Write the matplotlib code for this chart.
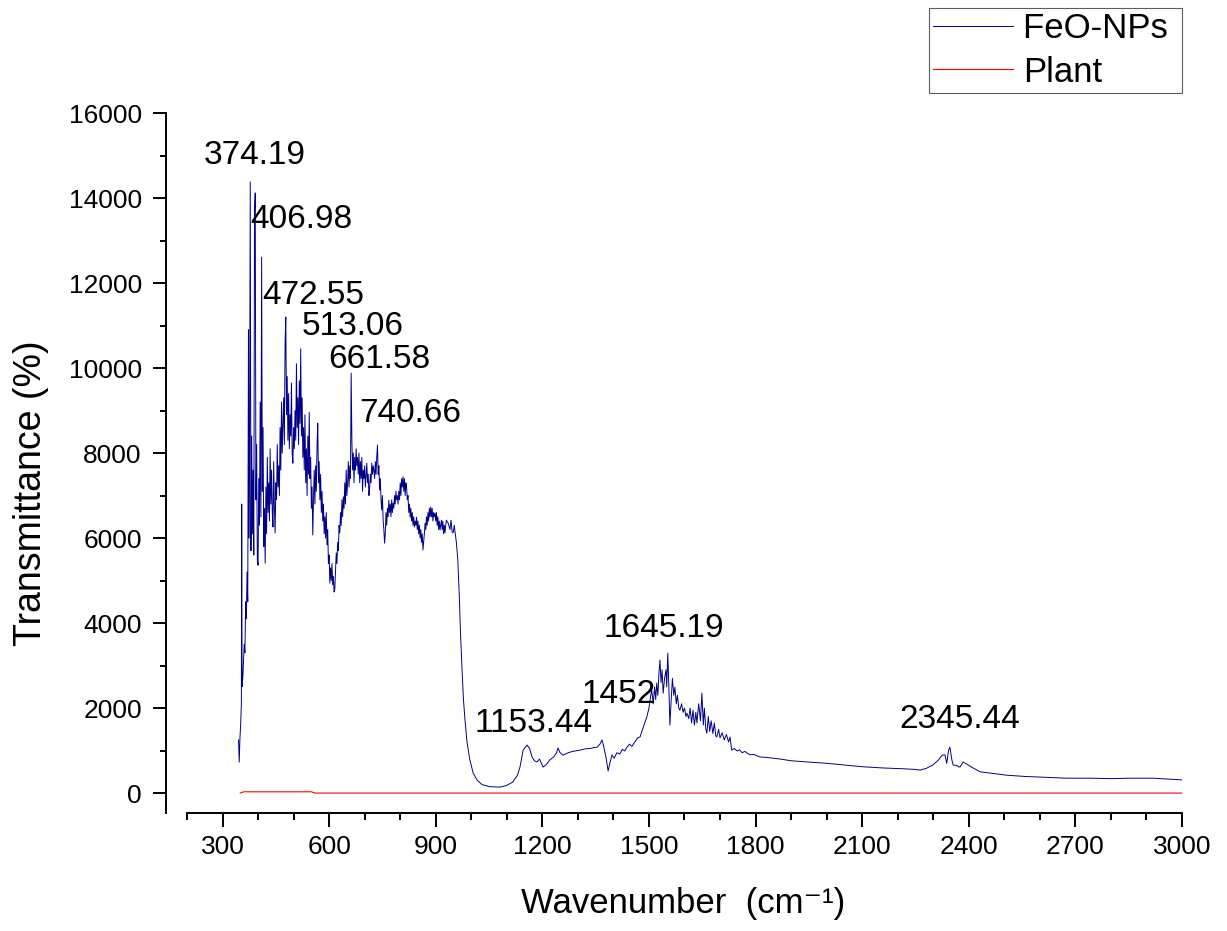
import matplotlib
matplotlib.use('Agg')
from matplotlib import pyplot as plt
from matplotlib.ticker import MultipleLocator

plt.rcParams['font.family'] = ['Liberation Sans', 'DejaVu Sans']

# FTIR spectrum of the iron oxide nanoparticles
feo_wn = [345, 347, 349, 351, 353, 354, 355, 357, 359, 361, 363, 365, 367, 369, 371, 373, 374, 376, 378,
          380, 382, 384, 386, 388, 390, 392, 394, 396, 398, 400, 402, 404, 406, 408, 410, 412, 414, 416,
          418, 420, 422, 424, 426, 428, 430, 432, 434, 436, 438, 440, 442, 444, 446, 448, 450, 452, 454,
          456, 458, 460, 462, 464, 466, 468, 470, 472, 474, 476, 478, 480, 482, 484, 486, 488, 490, 492,
          494, 496, 498, 500, 502, 504, 506, 508, 510, 512, 514, 516, 518, 520, 522, 524, 526, 528, 530,
          532, 534, 536, 538, 540, 542, 544, 546, 548, 550, 552, 554, 556, 558, 560, 562, 564, 566, 568,
          570, 572, 574, 576, 578, 580, 582, 584, 586, 588, 590, 592, 594, 596, 598, 600, 602, 604, 606,
          608, 610, 612, 614, 616, 618, 620, 622, 624, 626, 628, 630, 632, 634, 636, 638, 640, 642, 644,
          646, 648, 650, 652, 654, 656, 658, 660, 662, 664, 666, 668, 670, 672, 674, 676, 678, 680, 682,
          684, 686, 688, 690, 692, 694, 696, 698, 700, 702, 704, 706, 708, 710, 712, 714, 716, 718, 720,
          722, 724, 726, 728, 730, 732, 734, 736, 738, 740, 742, 744, 746, 748, 750, 752, 754, 756, 758,
          760, 762, 764, 766, 768, 770, 772, 774, 776, 778, 780, 782, 784, 786, 788, 790, 792, 794, 796,
          798, 800, 802, 804, 806, 808, 810, 812, 814, 816, 818, 820, 822, 824, 826, 828, 830, 832, 834,
          836, 838, 840, 842, 844, 846, 848, 850, 852, 854, 856, 858, 860, 862, 864, 866, 868, 870, 872,
          874, 876, 878, 880, 882, 884, 886, 888, 890, 892, 894, 896, 898, 900, 902, 904, 906, 908, 910,
          912, 914, 916, 918, 920, 922, 924, 926, 928, 930, 935, 940, 943, 946, 949, 952, 955, 958, 962,
          966, 970, 974, 978, 982, 988, 996, 1005, 1016, 1030, 1053, 1081, 1100, 1117, 1130, 1137, 1146,
          1157, 1164, 1171, 1178, 1185, 1192, 1202, 1212, 1221, 1232, 1240, 1244, 1250, 1258, 1270, 1285,
          1306, 1320, 1335, 1345, 1354, 1362, 1368, 1374, 1380, 1385, 1390, 1396, 1402, 1410, 1418, 1425,
          1432, 1438, 1445, 1452, 1460, 1468, 1475, 1480, 1486, 1494, 1500, 1505, 1508, 1512, 1516, 1519,
          1522, 1525, 1528, 1531, 1534, 1537, 1540, 1544, 1548, 1550, 1553, 1556, 1559, 1562, 1566, 1570,
          1573, 1577, 1580, 1584, 1587, 1592, 1596, 1600, 1604, 1607, 1612, 1616, 1620, 1624, 1628, 1632,
          1635, 1640, 1645, 1649, 1653, 1656, 1660, 1663, 1667, 1671, 1675, 1680, 1684, 1688, 1691, 1696,
          1700, 1706, 1712, 1718, 1724, 1728, 1733, 1740, 1748, 1755, 1762, 1770, 1776, 1785, 1795, 1812,
          1830, 1850, 1870, 1900, 1950, 2000, 2050, 2100, 2160, 2220, 2250, 2263, 2280, 2299, 2315, 2325,
          2333, 2338, 2343, 2347, 2352, 2356, 2365, 2375, 2384, 2395, 2410, 2432, 2460, 2507, 2560, 2620,
          2676, 2740, 2800, 2860, 2918, 2960, 3000]
feo_t = [1250, 730, 1300, 1600, 2100, 6800, 2500, 2700, 3100, 3500, 3300, 4500, 4100, 5200, 4500, 10900, 6000, 8000, 14380,
         5700, 8400, 6100, 7600, 5600, 13600, 14120, 6900, 8200, 5500, 5360, 7400, 6300, 9200, 6500, 12610, 7100, 8600, 5800,
         6700, 5410, 7200, 6100, 7900, 6600, 7300, 6400, 8100, 6800, 7600, 6600, 6260, 7800, 6700, 6120, 7300, 6900, 8200,
         7200, 7700, 7000, 8600, 7600, 9200, 8000, 8700, 9300, 8200, 10600, 11200, 8900, 9800, 8300, 9400, 8100, 8900, 8400,
         9650, 8000, 7760, 8600, 8100, 9000, 8300, 10100, 8600, 9300, 8200, 9700, 8700, 10450, 8400, 9300, 7900, 8600, 7600,
         8900, 7300, 8100, 7000, 8400, 7500, 8960, 7400, 7900, 6700, 7200, 6070, 6900, 7600, 6800, 7700, 7100, 8200, 8700,
         7300, 7800, 6900, 7500, 6600, 7100, 6400, 6800, 6100, 6500, 6000, 6600, 5840, 6200, 5400, 5600, 4940, 5300, 5000,
         5400, 4900, 5100, 4730, 4800, 5200, 5650, 5400, 5900, 5700, 6300, 6120, 6600, 6300, 6900, 6500, 6970, 6700, 7300,
         6800, 7600, 7000, 7290, 7800, 7200, 7700, 7400, 9880, 8300, 7600, 8000, 7300, 7900, 7600, 8100, 7700, 7900, 7500,
         8000, 7300, 7800, 7400, 7900, 7100, 7600, 7400, 7700, 7200, 7500, 7760, 7300, 7500, 7000, 7180, 7500, 7300, 7760,
         7500, 7700, 7600, 7400, 7800, 7500, 7900, 8190, 7500, 7700, 7130, 7400, 6900, 6660, 7000, 6400, 6200, 5880, 6100,
         6600, 6300, 6700, 6500, 6890, 6600, 6800, 6500, 6900, 6600, 6820, 6700, 7000, 6800, 7100, 6900, 7000, 6800, 7100,
         6900, 7300, 7000, 7400, 7200, 7440, 7100, 7400, 7000, 7300, 7200, 6900, 7000, 6600, 6800, 6490, 6700, 6400, 6600,
         6300, 6500, 6260, 6400, 6300, 6490, 6200, 6400, 6100, 6300, 6000, 6200, 5900, 6100, 5720, 5900, 6100, 6350, 6200,
         6500, 6300, 6600, 6400, 6700, 6500, 6730, 6500, 6700, 6400, 6600, 6500, 6590, 6400, 6600, 6300, 6500, 6200, 6400,
         6190, 6300, 6420, 6200, 6400, 6100, 6300, 6120, 6300, 6420, 6350, 6200, 6420, 6150, 6120, 6300, 6100, 5900, 5500,
         4700, 3700, 2900, 2200, 1750, 1200, 780, 480, 310, 200, 150, 140, 180, 260, 420, 610, 1010,
         1130, 1050, 850, 760, 730, 800, 610, 680, 780, 850, 950, 1060, 950, 890, 940, 980,
         1010, 1040, 1050, 1070, 1080, 1150, 1250, 1050, 800, 520, 700, 900, 820, 950, 920, 1030,
         990, 1080, 1150, 1100, 1200, 1300, 1320, 1450, 1600, 1790, 2000, 2300, 2420, 2100, 2500, 2200,
         2590, 2300, 2800, 3130, 2600, 2900, 2350, 2700, 2900, 2500, 3290, 2500, 1600, 2100, 2700, 2300,
         2490, 2100, 2300, 2000, 1950, 2100, 1900, 2000, 1800, 1880, 1750, 2000, 1650, 1950, 1600, 1900,
         1650, 2100, 1700, 2350, 1600, 2000, 1500, 1410, 1800, 1450, 1700, 1400, 1650, 1350, 1320, 1500,
         1300, 1420, 1250, 1380, 1200, 1320, 1010, 1050, 990, 1020, 950, 980, 940, 900, 910, 850,
         840, 820, 800, 760, 730, 700, 660, 620, 590, 570, 555, 540, 580, 660, 780, 890,
         900, 700, 1000, 1080, 800, 660, 650, 610, 730, 680, 600, 500, 470, 420, 390, 370,
         350, 350, 340, 350, 350, 330, 310]

# plant extract baseline
plant_wn = [350, 360, 550, 560, 3000]
plant_t = [0, 30, 30, 0, 0]

# labelled band positions: text, x, baseline y
peak_labels = ['374.19', '406.98', '472.55', '513.06', '661.58', '740.66',
               '1153.44', '1452', '1645.19', '2345.44']
label_x = [248, 377, 411, 524, 597, 684, 1010, 1309, 1371, 2206]
label_y = [14800, 13300, 11500, 10780, 10000, 8730, 1440, 2120, 3670, 1530]

fig = plt.figure(figsize=(12.27, 9.31), dpi=100)
ax = fig.add_axes([0.1524, 0.1267, 0.8109, 0.7519])

# trailing space keeps some room between the labels and the legend border
ax.plot(feo_wn, feo_t, color='#00008b', lw=0.7, label='FeO-NPs ')
ax.plot(plant_wn, plant_t, color='#ff0000', lw=0.8, label='Plant')

for txt, lx, ly in zip(peak_labels, label_x, label_y):
    ax.text(lx, ly, txt, fontsize=24, ha='left', va='baseline')

ax.set_xlim(200, 3000)
ax.set_ylim(-470, 16000)
ax.xaxis.set_major_locator(MultipleLocator(300))
ax.xaxis.set_minor_locator(MultipleLocator(100))
ax.yaxis.set_major_locator(MultipleLocator(2000))
ax.yaxis.set_minor_locator(MultipleLocator(1000))

ax.spines['top'].set_visible(False)
ax.spines['right'].set_visible(False)
ax.spines['left'].set_position(('outward', 15))
ax.spines['left'].set_linewidth(1.4)
ax.spines['bottom'].set_linewidth(1.4)

ax.tick_params(axis='both', which='major', direction='out', width=1.4, labelsize=19)
ax.tick_params(axis='both', which='minor', direction='out', width=1.4)
ax.tick_params(axis='x', which='major', length=10, pad=6)
ax.tick_params(axis='x', which='minor', length=5)
ax.tick_params(axis='y', which='major', length=9.5, pad=8)
ax.tick_params(axis='y', which='minor', length=4.5)

ax.set_xlabel('Wavenumber  (cm\u207b\u00b9)', fontsize=25)
ax.set_ylabel('Transmittance (%)', fontsize=27)
ax.xaxis.set_label_coords(0.4985, -0.105)
ax.yaxis.set_label_coords(-0.139, 0.457)

leg = fig.legend(loc='upper right', bbox_to_anchor=(1182 / 1227, 1 - 8 / 931),
                 fontsize=25, frameon=True, fancybox=False, borderaxespad=0,
                 handlelength=2.3, handletextpad=0.3, borderpad=0.12, labelspacing=0.3)
leg.get_frame().set_edgecolor('#333333')
leg.get_frame().set_linewidth(0.8)

fig.savefig('out.png', dpi=100)
